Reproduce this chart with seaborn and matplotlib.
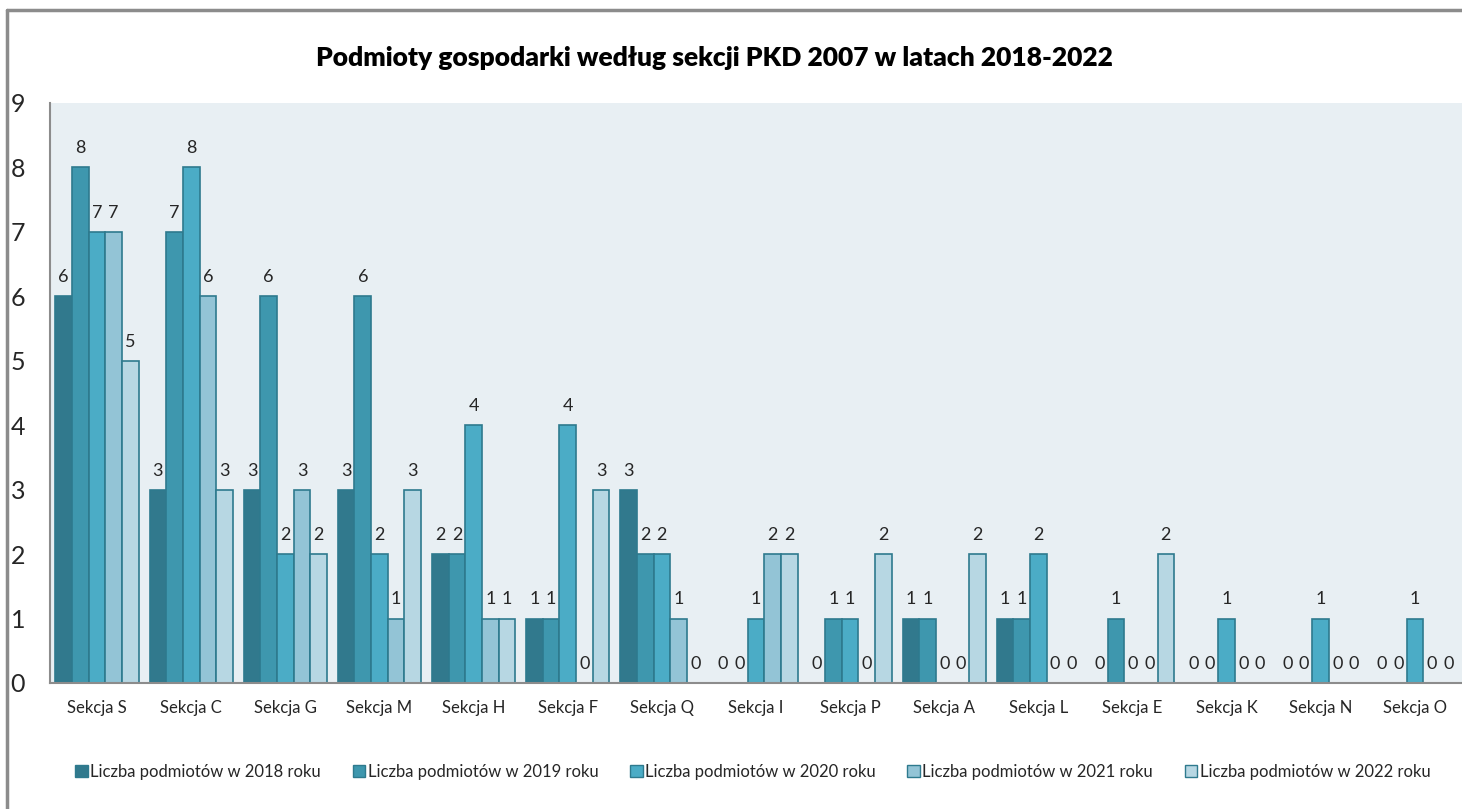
import pandas as pd
import numpy as np
import seaborn as sns
import matplotlib.pyplot as plt
from matplotlib.lines import Line2D

# dane
sekcje = ['Sekcja S', 'Sekcja C', 'Sekcja G', 'Sekcja M', 'Sekcja H',
          'Sekcja F', 'Sekcja Q', 'Sekcja I', 'Sekcja P', 'Sekcja A',
          'Sekcja L', 'Sekcja E', 'Sekcja K', 'Sekcja N', 'Sekcja O']
lata = ['2018', '2019', '2020', '2021', '2022']
v2018 = [6, 3, 3, 3, 2, 1, 3, 0, 0, 1, 1, 0, 0, 0, 0]
v2019 = [8, 7, 6, 6, 2, 1, 2, 0, 1, 1, 1, 1, 0, 0, 0]
v2020 = [7, 8, 2, 2, 4, 4, 2, 1, 1, 0, 2, 0, 1, 1, 1]
v2021 = [7, 6, 3, 1, 1, 0, 1, 2, 0, 0, 0, 0, 0, 0, 0]
v2022 = [5, 3, 2, 3, 1, 3, 0, 2, 2, 2, 0, 2, 0, 0, 0]
kolory = ['#31798D', '#3E97AE', '#4BACC6', '#93C4D6', '#B7D7E3']

rows = []
for rok, vals in zip(lata, [v2018, v2019, v2020, v2021, v2022]):
    for s, v in zip(sekcje, vals):
        rows.append({'Sekcja': s, 'Rok': f'Liczba podmiotów w {rok} roku', 'Liczba': v})
df = pd.DataFrame(rows)

sns.set_style('white')
plt.rcParams['font.family'] = ['Lato', 'DejaVu Sans']

fig = plt.figure(figsize=(14.62, 8.09), dpi=100)
ax = fig.add_axes([50 / 1462, 1 - 683 / 809, 1412 / 1462, 580 / 809])
ax.set_facecolor('#E8EFF3')

sns.barplot(data=df, x='Sekcja', y='Liczba', hue='Rok', palette=kolory,
            saturation=1, width=0.885, edgecolor='#2E7A8E', linewidth=1.2,
            ax=ax, legend=False)

for cont in ax.containers:
    ax.bar_label(cont, fmt='%d', padding=8, fontsize=13)

ax.set_ylim(0, 9)
ax.set_xlim(-0.5, len(sekcje) - 0.5)
ax.set_yticks(range(0, 10))
ax.tick_params(axis='y', length=0, pad=18, labelsize=18)
ax.tick_params(axis='x', length=0, pad=12, labelsize=12)
ax.set_xlabel('')
ax.set_ylabel('')
for side in ['top', 'right']:
    ax.spines[side].set_visible(False)
for side in ['left', 'bottom']:
    ax.spines[side].set_color('#8C8C8C')
    ax.spines[side].set_linewidth(1.5)

fig.text(0.489, 1 - 58 / 809, 'Podmioty gospodarki według sekcji PKD 2007 w latach 2018-2022',
         ha='center', va='center', fontsize=19, fontweight='heavy', color='black')

handles = [plt.Rectangle((0, 0), 1, 1, facecolor=c, edgecolor='#2E7A8E', linewidth=1)
           for c in kolory]
labels = [f'Liczba podmiotów w {r} roku' for r in lata]
fig.legend(handles, labels, loc='center', bbox_to_anchor=(0.515, 1 - 772 / 809),
           ncol=5, frameon=False, fontsize=12, handlelength=0.75, handleheight=0.75,
           handletextpad=0.15, columnspacing=1.9)

# ramka wykresu (lewa i górna krawędź)
fig.add_artist(Line2D([7 / 1462, 7 / 1462], [0, 1 - 10 / 809], color='#8C8C8C', lw=2.5))
fig.add_artist(Line2D([7 / 1462, 1], [1 - 10 / 809, 1 - 10 / 809], color='#8C8C8C', lw=2.5))

plt.savefig('out.png', dpi=100)
plt.close()
